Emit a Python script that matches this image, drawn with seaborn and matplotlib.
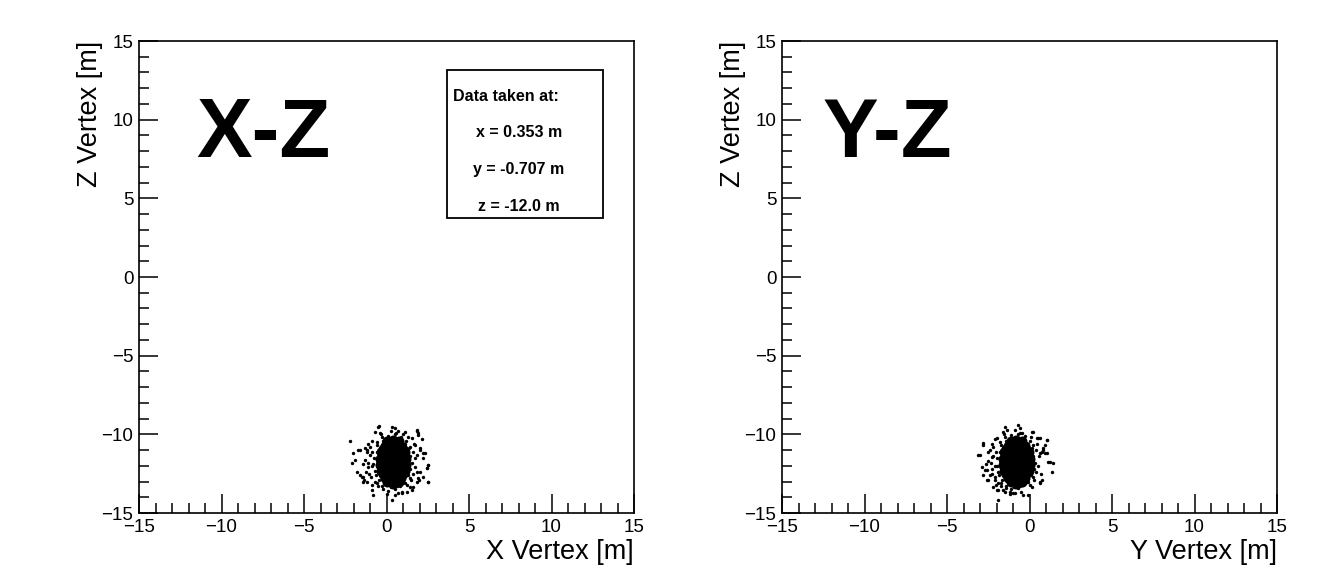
import matplotlib
matplotlib.use("Agg")
import matplotlib.pyplot as plt
from matplotlib.patches import Rectangle
import seaborn as sns
import pandas as pd

# ---------------- data ----------------
x_ticks = [-15, -10, -5, 0, 5, 10, 15]
z_ticks = [-15, -10, -5, 0, 5, 10, 15]

# X-Z panel: dense core of the vertex cloud
xz_core_x = [0.2, 0.6,
             -0.2, 0.2, 0.6, 1.0,
             -0.3, 0.1, 0.5, 0.9, 1.1,
             -0.35, 0.05, 0.45, 0.85, 1.15,
             -0.3, 0.1, 0.5, 0.9, 1.1,
             -0.2, 0.2, 0.6, 1.0,
             0.2, 0.6,
             0.4, -0.1, 0.9, -0.35, 1.15, -0.4, 1.2, -0.4, 1.2, -0.35, 1.15, -0.1, 0.9, 0.4,
             0.05, 0.75, 0.05, 0.75]
xz_core_z = [-10.55, -10.55,
             -10.95, -10.95, -10.95, -10.95,
             -11.35, -11.35, -11.35, -11.35, -11.35,
             -11.75, -11.75, -11.75, -11.75, -11.75,
             -12.15, -12.15, -12.15, -12.15, -12.15,
             -12.55, -12.55, -12.55, -12.55,
             -12.95, -12.95,
             -10.35, -10.75, -10.75, -11.15, -11.15, -11.55, -11.55, -11.95, -11.95,
             -12.35, -12.35, -12.75, -12.75, -13.15,
             -10.45, -10.45, -13.05, -13.05]

# X-Z panel: individual scattered vertices
xz_pts_x = [-0.43, 0.31, 0.52, 0.72, 1.02, 1.87, 1.93, 2.13, -2.21, -0.70,
            -1.60, -1.20, -2.01, -1.91, -2.11, -1.81, -1.51, -1.40, -0.90, -0.80,
            0.31, 0.52, 0.92, 1.42, 1.83, 2.54, 2.44, 2.54, 2.23, -1.71,
            -1.30, -1.61, -1.41, -1.20, -0.50, 1.12, 1.83, 1.91, 1.53, 1.73,
            2.03, 2.33, 2.23, 2.53, 2.44, 2.03, 2.23, 1.93, 2.53, 1.62,
            1.53, 1.22, 0.92,
            -1.1, -0.9, -1.2, -1.0, -1.3, -0.8, -1.1, -1.25, -0.95, -0.7,
            -0.5, -0.2, 0.1, 0.5, 0.8, 1.1, 1.4, 1.6, 1.7, 1.55,
            1.75, 1.6, 1.4, 1.2, 0.9, 0.5, 0.1, -0.3, -0.6, -0.7,
            -0.75, 1.5, 1.85, -1.45, 0.0, 0.7, 1.3, -0.4, 0.3, 1.85,
            -0.55, -0.6, -0.65, -0.45, -0.85, -0.9, -1.05, -0.55, -0.25, 0.25,
            0.65, 1.0, 1.3, 1.45, 1.4, 1.35, 1.1, 0.75, 0.3, -0.2,
            -1.0, -1.15, -0.85, 1.25, 1.65, -0.35, 0.6, -1.35, 1.95, 2.0]
xz_pts_z = [-9.47, -9.51, -9.62, -9.77, -9.98, -9.77, -10.04, -10.32, -10.42, -9.83,
            -11.00, -11.10, -11.21, -11.63, -11.84, -12.37, -12.69, -13.01, -13.54, -13.86,
            -14.17, -13.86, -13.64, -13.33, -13.01, -13.01, -12.16, -11.95, -11.21, -11.00,
            -10.89, -12.58, -12.69, -13.00, -9.51, -9.83, -9.72, -9.93, -10.25, -10.68,
            -11.00, -11.20, -11.52, -11.95, -12.16, -12.37, -12.69, -12.79, -13.00, -13.33,
            -13.54, -13.65, -13.75,
            -10.6, -10.4, -11.0, -11.3, -11.6, -11.9, -12.1, -12.4, -12.7, -13.0,
            -13.3, -13.5, -13.6, -13.5, -13.3, -13.1, -12.8, -12.5, -12.1, -11.8,
            -11.5, -11.1, -10.8, -10.4, -10.2, -10.0, -10.1, -10.2, -10.5, -12.3,
            -11.5, -12.9, -11.3, -11.9, -13.8, -13.7, -10.2, -9.9, -9.8, -12.4,
            -10.7, -11.1, -12.6, -12.9, -11.1, -12.0, -12.5, -13.1, -13.3, -13.35,
            -13.3, -13.0, -12.6, -12.2, -11.4, -10.9, -10.6, -10.35, -10.25, -10.4,
            -10.8, -11.8, -13.2, -13.2, -10.6, -10.0, -9.9, -12.9, -12.9, -10.9]

# Y-Z panel: dense core
yz_core_y = [-1.0, -0.6,
             -1.4, -1.0, -0.6, -0.2,
             -1.5, -1.1, -0.7, -0.3, -0.1,
             -1.55, -1.15, -0.75, -0.35, -0.05,
             -1.5, -1.1, -0.7, -0.3, -0.1,
             -1.4, -1.0, -0.6, -0.2,
             -1.0, -0.6,
             -0.8, -1.3, -0.3, -1.55, -0.05, -1.6, 0.0, -1.6, 0.0, -1.55, -0.05, -1.3, -0.3, -0.8,
             -1.15, -0.45, -1.15, -0.45]
yz_core_z = [-10.55, -10.55,
             -10.95, -10.95, -10.95, -10.95,
             -11.35, -11.35, -11.35, -11.35, -11.35,
             -11.75, -11.75, -11.75, -11.75, -11.75,
             -12.15, -12.15, -12.15, -12.15, -12.15,
             -12.55, -12.55, -12.55, -12.55,
             -12.95, -12.95,
             -10.35, -10.75, -10.75, -11.15, -11.15, -11.55, -11.55, -11.95, -11.95,
             -12.35, -12.35, -12.75, -12.75, -13.15,
             -10.45, -10.45, -13.05, -13.05]

# Y-Z panel: individual scattered vertices
yz_pts_y = [-1.49, -1.38, -0.68, -0.58, -0.47, 0.13, 0.54, 1.04, 0.94, -2.80,
            -3.10, -2.90, -2.70, -2.80, -2.49, -2.19, -1.99, -1.59, -1.18, -0.88,
            -0.68, -0.17, 0.64, 1.14, 1.44, 1.34, 1.04, 0.84, -1.99, -2.80,
            -3.00, -2.50, -2.29, -2.60, -2.09, -1.89, -1.49, -0.98, -1.89, 0.23,
            0.43, 0.64, 1.04, 0.74, 0.94, 1.24, 0.64, 0.13, -0.37, -0.07,
            -2.3, -2.1, -2.4, -2.2, -2.5, -2.0, -2.3, -2.4, -2.1, -1.9,
            -1.7, -1.4, -1.1, -0.7, -0.4, -0.1, 0.2, 0.4, 0.5, 0.35,
            0.55, 0.4, 0.2, 0.0, -0.3, -0.7, -1.1, -1.5, -1.8, -1.9,
            -1.95, 0.3, 0.65, -2.65, -1.2, -0.5, 0.1, -1.6, -0.9, 0.7,
            -1.75, -1.8, -1.85, -1.65, -2.05, -2.1, -2.25, -1.75, -1.45, -0.95,
            -0.55, -0.2, 0.1, 0.25, 0.2, 0.15, -0.1, -0.45, -0.9, -1.4,
            -2.2, -2.35, -2.05, 0.05, 0.45, -1.55, -0.6, -2.55, 0.75, 0.8]
yz_pts_z = [-9.51, -9.72, -9.41, -9.62, -9.94, -9.83, -10.25, -10.36, -10.68, -10.57,
            -11.31, -12.05, -12.27, -12.58, -12.90, -13.33, -13.54, -13.54, -13.64, -13.75,
            -13.33, -13.01, -13.01, -11.74, -11.84, -12.37, -11.21, -11.00, -10.25, -10.68,
            -11.31, -11.10, -11.42, -12.27, -12.69, -13.54, -13.64, -13.75, -14.17, -9.83,
            -10.25, -10.25, -10.36, -11.10, -11.21, -11.74, -13.11, -13.33, -13.86, -13.86,
            -10.6, -10.3, -11.0, -11.4, -11.7, -12.0, -12.2, -12.6, -12.9, -13.1,
            -13.3, -13.4, -13.5, -13.4, -13.2, -13.0, -12.7, -12.4, -12.0, -11.8,
            -11.4, -11.0, -10.7, -10.4, -10.1, -9.95, -10.05, -10.2, -10.5, -12.4,
            -11.5, -12.9, -11.2, -11.9, -13.8, -13.65, -10.15, -9.85, -9.75, -12.5,
            -10.7, -11.1, -12.6, -12.9, -11.1, -12.0, -12.5, -13.1, -13.3, -13.35,
            -13.3, -13.0, -12.6, -12.2, -11.4, -10.9, -10.6, -10.35, -10.25, -10.4,
            -10.8, -11.8, -13.2, -13.2, -10.6, -10.0, -9.9, -12.9, -12.9, -10.9]

panel_titles = ["X-Z", "Y-Z"]
x_labels = ["X Vertex [m]", "Y Vertex [m]"]
y_label = "Z Vertex [m]"
info_title = "Data taken at:"
info_lines = ["x = 0.353 m", "y = -0.707 m", "z = -12.0 m"]

# ---------------- plotting ----------------
sns.set_theme(style="white")
plt.rcParams["font.family"] = ["Liberation Sans", "DejaVu Sans"]
plt.rcParams["axes.unicode_minus"] = True

fig = plt.figure(figsize=(13.18, 5.67), dpi=100)
ax_w, ax_h = 495 / 1318, 472 / 567
ax_b = 1 - 513 / 567
axes = [fig.add_axes([139 / 1318, ax_b, ax_w, ax_h]),
        fig.add_axes([782 / 1318, ax_b, ax_w, ax_h])]

datasets = [
    (pd.DataFrame({"h": xz_core_x, "z": xz_core_z}), pd.DataFrame({"h": xz_pts_x, "z": xz_pts_z})),
    (pd.DataFrame({"h": yz_core_y, "z": yz_core_z}), pd.DataFrame({"h": yz_pts_y, "z": yz_pts_z})),
]

for i, ax in enumerate(axes):
    core, pts = datasets[i]
    sns.scatterplot(data=core, x="h", y="z", ax=ax, color="black", s=52,
                    marker="o", linewidth=0, legend=False)
    sns.scatterplot(data=pts, x="h", y="z", ax=ax, color="black", s=6,
                    marker="o", linewidth=0, legend=False)
    ax.set_xlim(-15, 15)
    ax.set_ylim(-15, 15)
    ax.set_xticks(x_ticks)
    ax.set_yticks(z_ticks)
    ax.set_xticks(range(-15, 16), minor=True)
    ax.set_yticks(range(-15, 16), minor=True)
    ax.tick_params(which="both", direction="in", top=False, right=False,
                   bottom=True, left=True, colors="black", width=1.1,
                   labelsize=13.5, labelcolor="black")
    ax.tick_params(which="major", length=14, pad=4)
    ax.tick_params(which="minor", length=7)
    for sp in ax.spines.values():
        sp.set_color("black")
        sp.set_linewidth(1.2)
        sp.set_visible(True)
    ax.grid(False)
    ax.set_xlabel(x_labels[i], fontsize=19.5, color="black", ha="right", va="baseline")
    ax.xaxis.set_label_coords(1.0, -0.0985)
    ax.set_ylabel(y_label, fontsize=19.5, color="black", loc="top", va="baseline")
    ax.yaxis.set_label_coords(-0.084, 1.0)
    ax.set_facecolor("white")

# big panel titles
axes[0].text(-11.5, 7.65, panel_titles[0], fontsize=60, fontweight="bold",
             ha="left", va="baseline", color="black")
axes[1].text(-12.55, 7.65, panel_titles[1], fontsize=60, fontweight="bold",
             ha="left", va="baseline", color="black")

# info box on the left panel
ax0 = axes[0]
ax0.add_patch(Rectangle((3.67, 3.75), 13.12 - 3.67, 13.16 - 3.75, fill=False,
                        edgecolor="black", linewidth=1.3, zorder=5))
ax0.text(4.03, 11.45, info_title, fontsize=11.5, fontweight="bold",
         ha="left", va="center", color="black")
for line, zpos in zip(info_lines, [9.16, 6.81, 4.45]):
    ax0.text(8.03, zpos, line, fontsize=11.5, fontweight="bold",
             ha="center", va="center", color="black")

fig.savefig("out.png", dpi=100, facecolor="white")
